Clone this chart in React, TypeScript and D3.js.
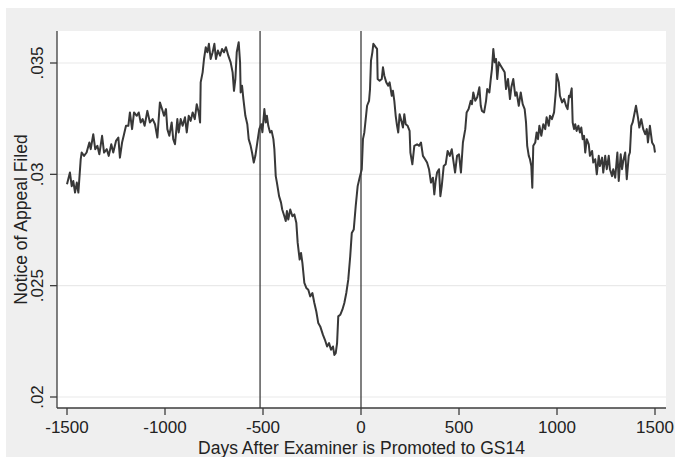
import React, { useEffect, useRef } from 'react';
import * as d3 from 'd3';

const width = 675,
      height = 457;

// days relative to promotion
const days = [
  -1500, -1485, -1476, -1468, -1459, -1450, -1442, -1430, -1425, -1413, -1400, -1386, -1379, -1366, -1356, -1345,
  -1335, -1321, -1311, -1297, -1287, -1274, -1264, -1250, -1238, -1230, -1219, -1209, -1199, -1187, -1179, -1168,
  -1158, -1144, -1134, -1124, -1114, -1104, -1090, -1077, -1063, -1051, -1039, -1026, -1015, -1005, -995, -988,
  -978, -966, -958, -949, -937, -930, -920, -910, -898, -889, -879, -869, -859, -848, -838, -828,
  -821, -818, -808, -801, -792, -784, -776, -767, -757, -748, -740, -730, -719, -709, -699, -689,
  -677, -665, -655, -648, -641, -634, -624, -617, -614, -607, -600, -590, -580, -573, -563, -556,
  -547, -539, -529, -519, -509, -503, -493, -486, -480, -473, -464, -456, -447, -442, -435, -429,
  -418, -408, -402, -391, -384, -378, -371, -361, -350, -340, -330, -323, -313, -306, -299, -289,
  -279, -269, -259, -248, -238, -228, -218, -208, -194, -184, -173, -163, -153, -143, -136, -129,
  -122, -116, -106, -95, -85, -75, -65, -55, -47, -37, -27, -17, -7, 4, 10, 17,
  24, 31, 41, 46, 51, 58, 63, 75, 82, 85, 95, 106, 112, 119, 129, 139,
  146, 157, 163, 170, 177, 184, 190, 197, 208, 214, 221, 228, 238, 248, 252, 262,
  272, 286, 296, 306, 316, 327, 337, 347, 357, 367, 374, 381, 388, 398, 405, 412,
  422, 432, 442, 453, 463, 469, 480, 490, 500, 510, 520, 532, 539, 549, 560, 566,
  573, 583, 593, 604, 611, 617, 628, 638, 644, 655, 662, 668, 675, 682, 689, 695,
  703, 713, 723, 733, 740, 750, 760, 767, 777, 787, 794, 805, 815, 825, 835, 842,
  848, 856, 862, 869, 874, 879, 889, 896, 903, 910, 920, 930, 940, 947, 958, 964,
  974, 985, 995, 998, 1009, 1015, 1026, 1036, 1046, 1054, 1061, 1066, 1075, 1080, 1087, 1093,
  1100, 1109, 1117, 1124, 1131, 1138, 1144, 1152, 1162, 1168, 1179, 1185, 1195, 1203, 1213, 1219,
  1230, 1236, 1246, 1254, 1264, 1270, 1281, 1287, 1297, 1308, 1315, 1325, 1332, 1338, 1348, 1356,
  1366, 1372, 1379, 1386, 1393, 1403, 1413, 1420, 1430, 1440, 1450, 1458, 1464, 1474, 1485, 1495,
  1500,
];

// share of applications with a notice of appeal filed
const appealRate = [
  .02955, .03008, .02947, .02970, .02918, .02963, .02918, .03068, .03098, .03083, .03098, .03143, .03113, .03180, .03113, .03128,
  .03090, .03173, .03098, .03113, .03083, .03135, .03098, .03150, .03165, .03075, .03143, .03180, .03218, .03218, .03278, .03203,
  .03278, .03263, .03278, .03233, .03248, .03218, .03285, .03233, .03248, .03225, .03165, .03323, .03293, .03263, .03293, .03203,
  .03173, .03233, .03158, .03135, .03248, .03188, .03248, .03218, .03256, .03188, .03263, .03240, .03278, .03248, .03315, .03278,
  .03233, .03413, .03458, .03518, .03571, .03548, .03586, .03518, .03548, .03586, .03518, .03556, .03533, .03563, .03548, .03571,
  .03533, .03503, .03458, .03375, .03428, .03548, .03593, .03503, .03368, .03398, .03338, .03263, .03225, .03158, .03128, .03098,
  .03053, .03083, .03143, .03203, .03225, .03189, .03293, .03233, .03263, .03218, .03188, .03195, .03158, .03113, .02992, .02963,
  .02902, .02873, .02842, .02812, .02790, .02835, .02797, .02842, .02812, .02820, .02783, .02692, .02617, .02647, .02602, .02512,
  .02490, .02482, .02452, .02467, .02422, .02384, .02332, .02317, .02279, .02257, .02227, .02242, .02212, .02227, .02189, .02197,
  .02242, .02362, .02369, .02392, .02422, .02467, .02527, .02632, .02737, .02752, .02857, .02947, .02985, .03023, .03158, .03188,
  .03248, .03308, .03330, .03383, .03511, .03548, .03586, .03571, .03563, .03428, .03420, .03428, .03481, .03443, .03413, .03398,
  .03413, .03353, .03375, .03330, .03263, .03218, .03188, .03270, .03233, .03210, .03270, .03225, .03218, .03195, .03098, .03045,
  .03128, .03135, .03128, .03143, .03083, .03068, .03053, .03023, .02963, .02985, .02910, .02970, .03008, .03023, .02902, .02947,
  .03037, .03045, .03105, .03083, .03113, .03075, .03008, .03083, .03090, .03008, .03143, .03203, .03278, .03293, .03330, .03315,
  .03368, .03330, .03346, .03391, .03308, .03285, .03278, .03330, .03383, .03368, .03428, .03473, .03563, .03503, .03518, .03428,
  .03503, .03488, .03473, .03458, .03383, .03428, .03338, .03391, .03428, .03353, .03368, .03308, .03368, .03315, .03293, .03233,
  .03128, .03083, .03068, .03037, .02940, .03128, .03143, .03188, .03158, .03218, .03173, .03225, .03203, .03256, .03218, .03263,
  .03248, .03278, .03383, .03451, .03413, .03353, .03323, .03338, .03308, .03293, .03353, .03346, .03386, .03233, .03203, .03225,
  .03195, .03218, .03188, .03210, .03158, .03173, .03098, .03158, .03135, .03083, .03105, .03053, .03068, .03000, .03083, .03037,
  .03075, .03008, .03083, .03023, .03083, .03023, .02992, .03023, .02985, .03098, .02970, .03090, .03023, .03060, .03098, .02978,
  .03083, .03098, .03218, .03233, .03263, .03308, .03256, .03210, .03248, .03203, .03180, .03203, .03143, .03218, .03143, .03128,
  .03098,
];

const xTicks = [-1500, -1000, -500, 0, 500, 1000, 1500];
const yTicks = [0.02, 0.025, 0.03, 0.035];
const yTickLabels = ['.02', '.025', '.03', '.035'];
const refLines = [-515, 0];

const font = "'Liberation Sans', Arial, Helvetica, sans-serif";

const App = () => {
    const ref = useRef<SVGSVGElement>(null);

    useEffect(() => {
        document.body.style.margin = '0';
        const svg = d3.select(ref.current);
        svg.html('');

        const left = 57, right = 666, top = 31, bottom = 408;

        const x = d3.scaleLinear().domain([-1500, 1500]).range([67, 655]);
        const y = d3.scaleLinear().domain([0.02, 0.035]).range([397, 63]);

        svg.append('rect').attr('width', width).attr('height', height).attr('fill', '#fff');
        svg.append('rect').attr('x', 6).attr('y', 8)
            .attr('width', width - 6).attr('height', height - 8).attr('fill', '#efefef');
        svg.append('rect').attr('x', left).attr('y', top)
            .attr('width', right - left).attr('height', bottom - top).attr('fill', '#fff');

        // gridlines
        svg.append('g').selectAll('line').data(yTicks).enter().append('line')
            .attr('x1', left).attr('x2', right)
            .attr('y1', d => y(d)).attr('y2', d => y(d))
            .attr('stroke', '#e9e9e9').attr('stroke-width', 1.2);

        // the series
        const pts = days.map((d, i) => [d, appealRate[i]] as [number, number]);
        const line = d3.line<[number, number]>().x(d => x(d[0])).y(d => y(d[1]));
        svg.append('path').datum(pts)
            .attr('d', line)
            .attr('fill', 'none')
            .attr('stroke', '#383838')
            .attr('stroke-width', 2)
            .attr('stroke-linejoin', 'round');

        // reference lines
        svg.append('g').selectAll('line').data(refLines).enter().append('line')
            .attr('x1', d => x(d)).attr('x2', d => x(d))
            .attr('y1', top).attr('y2', bottom)
            .attr('stroke', '#3d3d3d').attr('stroke-width', 1.3);

        // axes
        const ax = svg.append('g').attr('stroke', '#3d3d3d').attr('stroke-width', 1.3);
        ax.append('line').attr('x1', left).attr('x2', left).attr('y1', top).attr('y2', bottom);
        ax.append('line').attr('x1', left).attr('x2', right).attr('y1', bottom).attr('y2', bottom);
        ax.selectAll('.yt').data(yTicks).enter().append('line')
            .attr('x1', left - 7).attr('x2', left)
            .attr('y1', d => y(d)).attr('y2', d => y(d));
        ax.selectAll('.xt').data(xTicks).enter().append('line')
            .attr('x1', d => x(d)).attr('x2', d => x(d))
            .attr('y1', bottom).attr('y2', bottom + 7);

        const txt = svg.append('g').attr('font-family', font).attr('fill', '#222');

        txt.selectAll('.xl').data(xTicks).enter().append('text')
            .attr('x', d => x(d)).attr('y', 433)
            .attr('text-anchor', 'middle').attr('font-size', 17)
            .text(d => String(d));

        txt.selectAll('.yl').data(yTicks).enter().append('text')
            .attr('transform', d => `translate(43,${y(d)}) rotate(-90)`)
            .attr('text-anchor', 'middle').attr('font-size', 17)
            .text((d, i) => yTickLabels[i]);

        txt.append('text')
            .attr('x', (left + right) / 2).attr('y', 454)
            .attr('text-anchor', 'middle').attr('font-size', 17.5)
            .text('Days After Examiner is Promoted to GS14');

        txt.append('text')
            .attr('transform', `translate(27,${(top + bottom) / 2}) rotate(-90)`)
            .attr('text-anchor', 'middle').attr('font-size', 17.5)
            .text('Notice of Appeal Filed');
    }, []);

    return (
        <svg ref={ref} width={width} height={height} style={{ display: 'block' }} />
    );
};

export default App;
